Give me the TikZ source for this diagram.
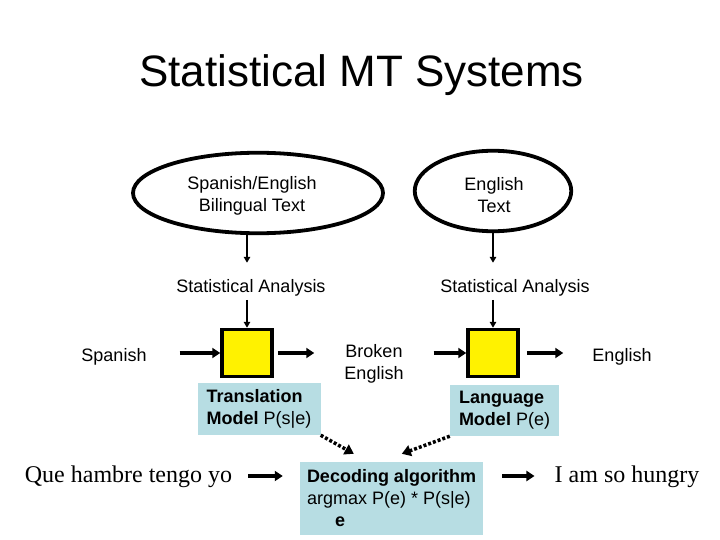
\documentclass[tikz,border=0pt]{standalone}
\usepackage{fontspec}
\setmainfont{Liberation Sans}
\newfontfamily\timesfont{Liberation Serif}
\usetikzlibrary{shapes.geometric,arrows.meta}
\definecolor{boxblue}{RGB}{183,221,227}
\begin{document}
\begin{tikzpicture}[x=1pt,y=-1pt,
  txt/.style={font=\fontsize{18}{22}\selectfont, align=center, inner sep=0pt},
  serif/.style={font=\fontsize{24}{28}\selectfont\timesfont, inner sep=0pt},
  ell/.style={draw, ellipse, line width=3.8pt, inner sep=0pt, minimum height=80.5pt},
  ybox/.style={draw, fill=yellow, line width=3.5pt, minimum width=50pt, minimum height=47pt, inner sep=0pt},
  bbox/.style={fill=boxblue, inner sep=0pt, align=left, font=\fontsize{18}{22}\selectfont},
  thinarr/.style={line width=1.5pt, -{Triangle[length=6pt,width=6.5pt]}},
  arr/.style={line width=3.5pt, -{Triangle[length=8pt,width=10pt]}},
  dotarr/.style={line width=3.5pt, dash pattern=on 3pt off 2pt, -{Triangle[length=9pt,width=11pt]}},
]
\useasboundingbox[fill=white] (0,0) rectangle (720,540);
% title
\node[font=\fontsize{44}{50}\selectfont, inner sep=0pt, anchor=base] (title) at (361.5,86.5) {Statistical MT Systems};
% ellipses
\node[ell, minimum width=250pt] (ell1) at (258,193) {};
\node[ell, minimum width=156.5pt] (ell2) at (493,191) {};
\node[txt] (ell1t) at (252,195.5) {Spanish/English\\Bilingual Text};
\node[txt] (ell2t) at (494,195.5) {English\\Text};
% statistical analysis
\node[txt, anchor=base] (sa1) at (251,292) {Statistical Analysis};
\node[txt, anchor=base] (sa2) at (515,292) {Statistical Analysis};
% yellow boxes
\node[ybox] (yb1) at (247,353) {};
\node[ybox] (yb2) at (493,353) {};
% row texts
\node[txt, anchor=base] (sp) at (114,361) {Spanish};
\node[txt] (be) at (374,363.5) {Broken\\English};
\node[txt, anchor=base] (en) at (622,361) {English};
% blue boxes
\node[bbox, minimum width=123pt, minimum height=52pt] (tm) at (259,409) {\textbf{Translation}\\\textbf{Model} P(s|e)};
\node[bbox, minimum width=109pt, minimum height=51pt] (lm) at (504.5,410.5) {\textbf{Language}\\\textbf{Model} P(e)};
\node[bbox, minimum width=183pt, minimum height=73pt] (dec) at (391.5,498.5) {\textbf{Decoding algorithm}\\argmax P(e) * P(s|e)\\\hspace*{28pt}\textbf{e}};
% bottom texts
\node[serif, anchor=base] (que) at (128.5,482) {Que hambre tengo yo};
\node[serif, anchor=base] (hun) at (627,482) {I am so hungry};
% vertical arrows
\draw[thinarr, shorten >=16pt] (yb1 |- ell1.south) -- (yb1 |- sa1.north);
\draw[thinarr, shorten <=4pt] (yb1 |- sa1.south) -- (yb1.north);
\draw[thinarr, shorten >=16pt] (yb2 |- ell2.south) -- (yb2 |- sa2.north);
\draw[thinarr, shorten <=4pt] (yb2 |- sa2.south) -- (yb2.north);
% horizontal arrows
\draw[arr, shorten <=33pt] (sp.east |- yb1) -- (yb1.west);
\draw[arr, shorten <=4pt, shorten >=30pt] (yb1.east) -- (be.west |- yb1);
\draw[arr, shorten <=30pt] (be.east |- yb2) -- (yb2.west);
\draw[arr, shorten <=7pt, shorten >=29pt] (yb2.east) -- (en.west |- yb2);
% bottom arrows
\draw[arr, shorten <=16pt, shorten >=17pt] (que.east |- 0,476) -- (dec.west |- 0,476);
\draw[arr, shorten <=19pt, shorten >=20pt] (dec.east |- 0,476) -- (hun.west |- 0,476);
% dotted arrows
\draw[dotarr] (tm.south east) -- ([xshift=54pt,yshift=8pt]dec.north west);
\draw[dotarr] (lm.south west) -- ([xshift=102pt,yshift=8pt]dec.north west);
\end{tikzpicture}
\end{document}
